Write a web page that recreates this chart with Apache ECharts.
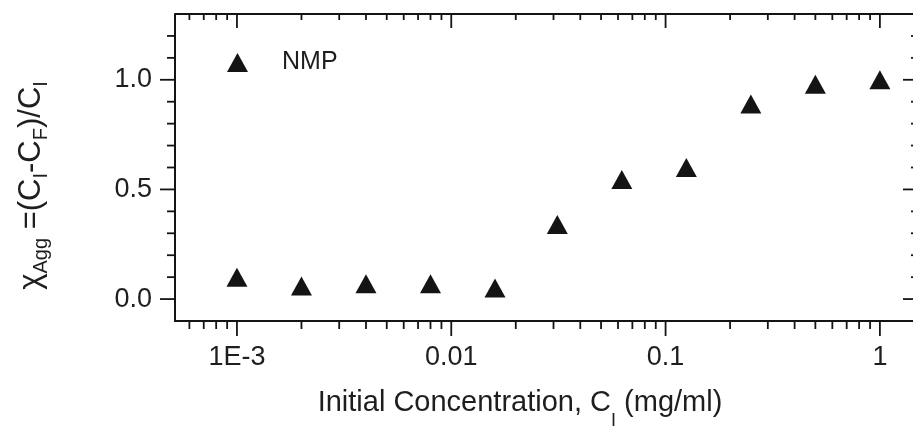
<!DOCTYPE html>
<html>
<head>
<meta charset="utf-8">
<script src="https://cdn.jsdelivr.net/npm/echarts@6/dist/echarts.min.js"></script>
<style>
  html, body { margin: 0; padding: 0; background: #fff; overflow: hidden; }
  #chart { width: 920px; height: 436px; }
</style>
</head>
<body>
<div id="chart"></div>
<script>
// Initial concentration (mg/ml) and aggregated fraction for NMP
const concentration = [0.001, 0.002, 0.004, 0.008, 0.016, 0.03125, 0.0625, 0.125, 0.25, 0.5, 1];
const chiAgg = [0.10, 0.06, 0.07, 0.07, 0.05, 0.34, 0.545, 0.60, 0.89, 0.98, 1.00];

// Axis ranges and labelled ticks
const xRange = [0.000514, 1.49];
const yRange = [-0.1, 1.3];
const xMajorTicks = [0.001, 0.01, 0.1, 1];
const xTickLabels = ['1E-3', '0.01', '0.1', '1'];
const yMajorTicks = [0, 0.5, 1.0];
const yTickLabels = ['0.0', '0.5', '1.0'];

// Minor tick positions: 2..9 within every decade, and every 0.1 on y
const xMinorTicks = [];
for (let d = -4; d <= 0; d++) {
  for (let m = 2; m <= 9; m++) {
    const v = m * Math.pow(10, d);
    if (v > xRange[0] && v < xRange[1]) xMinorTicks.push(v);
  }
}
const yMinorTicks = [];
for (let k = 1; k <= 12; k++) {
  if (k % 5 !== 0) yMinorTicks.push(k / 10);
}

const INK = '#141414';
const TEXT = '#1e1e1e';
const FONT = 'Liberation Sans, Arial, sans-serif';

function near(a, b) { return Math.abs(a - b) < 1e-9 * Math.max(1, Math.abs(b)); }

// Frame ticks: outward on bottom/left, inward on top/right
function renderTicks(params, api) {
  const cs = params.coordSys;
  const left = cs.x, right = cs.x + cs.width, top = cs.y, bottom = cs.y + cs.height;
  const children = [];
  const style = { stroke: INK, lineWidth: 1.8 };
  function line(x1, y1, x2, y2) {
    children.push({ type: 'line', shape: { x1, y1, x2, y2 }, style });
  }
  xMajorTicks.forEach(v => {
    const x = api.coord([v, yRange[0]])[0];
    line(x, bottom, x, bottom + 15);
    line(x, top, x, top + 14);
  });
  xMinorTicks.forEach(v => {
    const x = api.coord([v, yRange[0]])[0];
    line(x, bottom, x, bottom + 8);
    line(x, top, x, top + 6);
  });
  yMajorTicks.forEach(v => {
    const y = api.coord([xRange[0], v])[1];
    line(left - 15, y, left, y);
    line(right - 14, y, right, y);
  });
  yMinorTicks.forEach(v => {
    const y = api.coord([xRange[0], v])[1];
    line(left - 8, y, left, y);
    line(right - 6, y, right, y);
  });
  // Closing frame lines on top and right
  line(left, top, right, top);
  line(right, top, right, bottom);
  return { type: 'group', children };
}

const xTitleRich = {
  t: { fontFamily: FONT, fontSize: 29, color: TEXT, lineHeight: 54 },
  s: { fontFamily: FONT, fontSize: 18, color: TEXT, lineHeight: 18, verticalAlign: 'bottom' }
};
const yTitleRich = {
  t: { fontFamily: FONT, fontSize: 31, color: TEXT, lineHeight: 40 },
  s: { fontFamily: FONT, fontSize: 20, color: TEXT, lineHeight: 20, verticalAlign: 'bottom' }
};

const chart = echarts.init(document.getElementById('chart'), null, { renderer: 'canvas' });

chart.setOption({
  animation: false,
  backgroundColor: '#ffffff',
  grid: { left: 175, right: 3, top: 14, bottom: 115 },
  legend: {
    left: 222,
    top: 45,
    itemWidth: 21,
    itemHeight: 19,
    data: [{ name: 'NMP', icon: 'triangle', itemStyle: { color: INK, opacity: 1 } }],
    textStyle: { fontFamily: FONT, fontSize: 25, color: TEXT, padding: [0, 0, 0, 29] }
  },
  xAxis: {
    type: 'log',
    logBase: 10,
    min: xRange[0],
    max: xRange[1],
    splitLine: { show: false },
    axisTick: { show: false },
    axisLine: { show: true, onZero: false, lineStyle: { color: INK, width: 2 } },
    axisLabel: {
      margin: 23,
      fontFamily: FONT,
      fontSize: 27,
      color: TEXT,
      showMinLabel: false,
      showMaxLabel: false,
      formatter: v => {
        const i = xMajorTicks.findIndex(t => near(v, t));
        return i >= 0 ? xTickLabels[i] : '';
      }
    },
    name: '{t|Initial Concentration, C}{s|I}{t| (mg/ml)}',
    nameLocation: 'middle',
    nameGap: 55,
    nameTextStyle: { padding: [0, 52, 0, 0], rich: xTitleRich }
  },
  yAxis: {
    type: 'value',
    min: yRange[0],
    max: yRange[1],
    splitNumber: 3,
    splitLine: { show: false },
    axisTick: { show: false },
    axisLine: { show: true, onZero: false, lineStyle: { color: INK, width: 2 } },
    axisLabel: {
      margin: 23,
      fontFamily: FONT,
      fontSize: 27,
      color: TEXT,
      showMinLabel: false,
      showMaxLabel: false,
      formatter: v => {
        const i = yMajorTicks.findIndex(t => near(v, t));
        return i >= 0 ? yTickLabels[i] : '';
      }
    },
    name: '{t|χ}{s|Agg}{t| =(C}{s|I}{t|-C}{s|F}{t|)/C}{s|I}',
    nameLocation: 'middle',
    nameRotate: 90,
    nameGap: 124,
    nameTextStyle: { padding: [0, 36, 0, 0], rich: yTitleRich }
  },
  series: [
    {
      name: 'NMP',
      type: 'scatter',
      symbol: 'triangle',
      symbolSize: [21, 19],
      itemStyle: { color: INK, opacity: 1 },
      data: concentration.map((c, i) => [c, chiAgg[i]]),
      z: 3
    },
    {
      name: 'frame',
      type: 'custom',
      coordinateSystem: 'cartesian2d',
      clip: false,
      silent: true,
      renderItem: renderTicks,
      data: [[0.01, 0.5]],
      z: 2
    }
  ]
});
</script>
</body>
</html>
